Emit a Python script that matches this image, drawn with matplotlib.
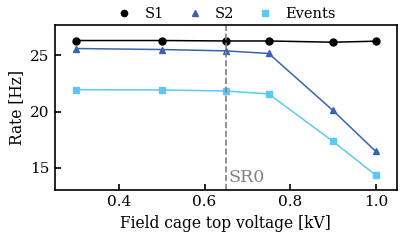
import matplotlib
matplotlib.use('Agg')
import matplotlib.pyplot as plt

plt.rcParams['font.family'] = 'DejaVu Serif'
plt.rcParams['font.size'] = 11

voltage = [0.3, 0.5, 0.65, 0.75, 0.9, 1.0]
s1_rate = [26.3, 26.3, 26.26, 26.26, 26.15, 26.24]
s2_rate = [25.59, 25.5, 25.38, 25.15, 20.09, 16.46]
event_rate = [21.94, 21.91, 21.82, 21.56, 17.35, 14.35]
sr0_voltage = 0.65

fig = plt.figure(figsize=(4.02, 2.41), dpi=100)
ax = fig.add_axes([0.136, 0.21, 0.852, 0.685])

ax.plot(voltage, s1_rate, color='black', marker='o', ms=5, lw=1.1, label='S1')
ax.plot(voltage, s2_rate, color='#3b62b0', marker='^', ms=5, lw=1.1, label='S2')
ax.plot(voltage, event_rate, color='#5ec8f4', marker='s', ms=5, lw=1.1, label='Events')

ax.axvline(sr0_voltage, color='gray', ls='--', lw=1.2)
ax.text(sr0_voltage + 0.006, 13.75, 'SR0', color='gray', fontsize=12.5)

ax.set_xlim(0.25, 1.05)
ax.set_ylim(13.0, 27.65)
ax.set_xticks([0.4, 0.6, 0.8, 1.0])
ax.set_yticks([15, 20, 25])
ax.tick_params(direction='in', length=4, width=1.2, labelsize=11)
for s in ax.spines.values():
    s.set_linewidth(1.2)

ax.set_xlabel('Field cage top voltage [kV]', fontsize=11.2)
ax.set_ylabel('Rate [Hz]', fontsize=11.2)

leg = ax.legend(loc='lower center', bbox_to_anchor=(0.5, 0.99), ncol=3, frameon=False,
                handlelength=1.2, columnspacing=1.5, borderaxespad=0, handletextpad=0.8,
                fontsize=10.5, markerscale=0.9)
for h in leg.legend_handles:
    h.set_linestyle('')

fig.savefig('out.png', dpi=100)
